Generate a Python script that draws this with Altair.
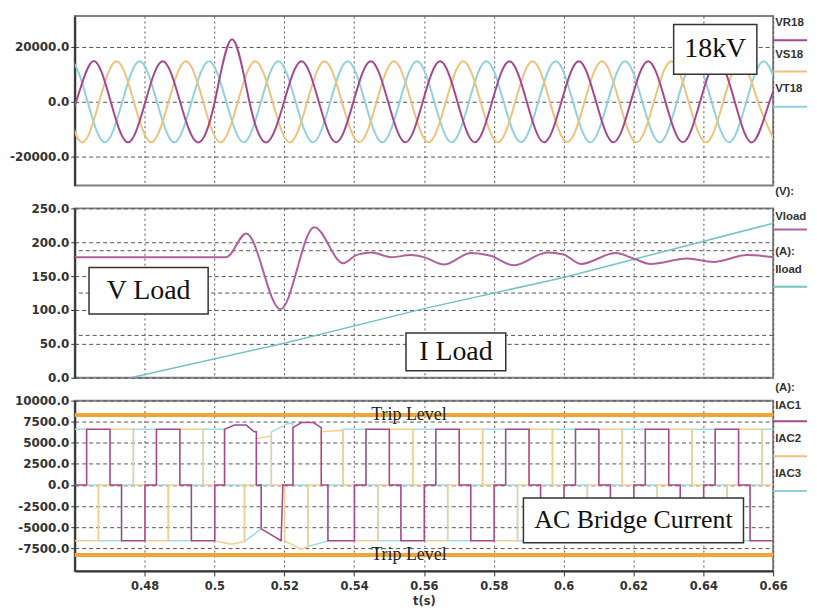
import altair as alt
import pandas as pd

# ---------------- values ----------------
T_TICKS = [0.48, 0.5, 0.52, 0.54, 0.56, 0.58, 0.6, 0.62, 0.64, 0.66]

# Panel 1: 18 kV phase voltages (peaks / zero crossings)
VR18_t = [0.45541, 0.46038, 0.46534, 0.47030, 0.47527, 0.48023, 0.48520, 0.49016, 0.49513, 0.50009,
          0.50505, 0.51002, 0.51498, 0.51995, 0.52491, 0.52988, 0.53484, 0.53980, 0.54477, 0.54973,
          0.55470, 0.55966, 0.56463, 0.56959, 0.57455, 0.57952, 0.58448, 0.58945, 0.59441, 0.59938,
          0.60434, 0.60930, 0.61427, 0.61923, 0.62420, 0.62916, 0.63413, 0.63909, 0.64405, 0.64902,
          0.65398, 0.65895, 0.66391]
VR18_v = [-14700, 0, 14700, 0, -14700, 0, 14700, 0, -14700, 0,
          22600, 0, -14700, 0, 14700, 0, -14700, 0, 14700, 0,
          -14700, 0, 14700, 0, -14700, 0, 14700, 0, -14700, 0,
          14700, 0, -14700, 0, 14700, 0, -14700, 0, 14700, 0,
          -14700, 0, 14700]
VS18_t = [0.45211, 0.45707, 0.46204, 0.46700, 0.47197, 0.47693, 0.48190, 0.48686, 0.49182, 0.49679,
          0.50175, 0.50672, 0.51168, 0.51665, 0.52161, 0.52658, 0.53154, 0.53650, 0.54147, 0.54643,
          0.55140, 0.55636, 0.56133, 0.56629, 0.57125, 0.57622, 0.58118, 0.58615, 0.59111, 0.59608,
          0.60104, 0.60600, 0.61097, 0.61593, 0.62090, 0.62586, 0.63083, 0.63579, 0.64075, 0.64572,
          0.65068, 0.65565, 0.66061]
VS18_v = [14700, 0, -14700, 0, 14700, 0, -14700, 0, 14700, 0,
          -14700, 0, 14700, 0, -14700, 0, 14700, 0, -14700, 0,
          14700, 0, -14700, 0, 14700, 0, -14700, 0, 14700, 0,
          -14700, 0, 14700, 0, -14700, 0, 14700, 0, -14700, 0,
          14700, 0, -14700]
VT18_t = [0.44879, 0.45375, 0.45872, 0.46368, 0.46865, 0.47361, 0.47858, 0.48354, 0.48850, 0.49347,
          0.49843, 0.50340, 0.50836, 0.51333, 0.51829, 0.52325, 0.52822, 0.53318, 0.53815, 0.54311,
          0.54808, 0.55304, 0.55800, 0.56297, 0.56793, 0.57290, 0.57786, 0.58283, 0.58779, 0.59275,
          0.59772, 0.60268, 0.60765, 0.61261, 0.61758, 0.62254, 0.62751, 0.63247, 0.63743, 0.64240,
          0.64736, 0.65233, 0.65729, 0.66226]
VT18_v = [-14700, 0, 14700, 0, -14700, 0, 14700, 0, -14700, 0,
          14700, 0, -14700, 0, 14700, 0, -14700, 0, 14700, 0,
          -14700, 0, 14700, 0, -14700, 0, 14700, 0, -14700, 0,
          14700, 0, -14700, 0, 14700, 0, -14700, 0, 14700, 0,
          -14700, 0, 14700, 0]

# Panel 2: load voltage and load current
VLOAD_t = [0.46, 0.5034, 0.5091, 0.5189, 0.5286, 0.5369, 0.5406, 0.5449, 0.5506, 0.5563,
           0.5600, 0.5657, 0.5734, 0.5791, 0.5857, 0.5954, 0.6000, 0.6049, 0.6149, 0.6200,
           0.6249, 0.6354, 0.6429, 0.6526, 0.66]
VLOAD_v = [178, 178, 213, 101, 222, 169, 181, 185, 178, 181,
           178, 167, 184, 180, 166, 185, 182, 168, 184, 176,
           168, 176, 171, 181, 178]
ILOAD_t = [0.476, 0.52, 0.56, 0.60, 0.66]
ILOAD_v = [0, 51, 102, 148, 228]
LOAD_EXTRA_GRID = [62.5, 125, 187.5]

# Panel 3: AC bridge currents (polyline vertices, time in s, current in A)
IAC1 = [
    (0.4600, 0), (0.4634, 0), (0.4634, 6600), (0.4701, 6600), (0.4701, 0),
    (0.4734, 0), (0.4734, -6600), (0.4801, -6600), (0.4801, 0),
    (0.4834, 0), (0.4834, 6600), (0.4901, 6600), (0.4901, 0),
    (0.4934, 0), (0.4934, -6600), (0.5001, -6600), (0.5001, 0),
    (0.5029, 0), (0.5029, 6600), (0.5057, 7100), (0.5091, 7100), (0.5114, 6300), (0.5120, 6300), (0.5120, 0),
    (0.5134, 0), (0.5134, -5200), (0.5191, -6600), (0.5196, 0),
    (0.5225, 0), (0.5225, 6800), (0.5249, 7400), (0.5283, 7400), (0.5306, 6800), (0.5306, 0),
    (0.5325, 0), (0.5325, -6600), (0.5401, -6600), (0.5401, 0),
    (0.5434, 0), (0.5434, 6600), (0.5501, 6600), (0.5501, 0),
    (0.5534, 0), (0.5534, -6600), (0.5601, -6600), (0.5601, 0),
    (0.5634, 0), (0.5634, 6600), (0.5701, 6600), (0.5701, 0),
    (0.5734, 0), (0.5734, -6600), (0.5801, -6600), (0.5801, 0),
    (0.5834, 0), (0.5834, 6600), (0.5901, 6600), (0.5901, 0),
    (0.5934, 0), (0.5934, -6600), (0.6001, -6600), (0.6001, 0),
    (0.6034, 0), (0.6034, 6600), (0.6101, 6600), (0.6101, 0),
    (0.6134, 0), (0.6134, -6600), (0.6201, -6600), (0.6201, 0),
    (0.6234, 0), (0.6234, 6600), (0.6301, 6600), (0.6301, 0),
    (0.6334, 0), (0.6334, -6600), (0.6401, -6600), (0.6401, 0),
    (0.6434, 0), (0.6434, 6600), (0.6501, 6600), (0.6501, 0),
    (0.6534, 0), (0.6534, -6600), (0.6600, -6600),
]
IAC2 = [
    (0.4600, -6600), (0.4668, -6600), (0.4668, 0),
    (0.4701, 0), (0.4701, 6600), (0.4768, 6600), (0.4768, 0),
    (0.4801, 0), (0.4801, -6600), (0.4868, -6600), (0.4868, 0),
    (0.4901, 0), (0.4901, 6600), (0.4968, 6600), (0.4968, 0),
    (0.5001, 0), (0.5001, -6600), (0.5043, -7000), (0.5054, -7000), (0.5086, -6700), (0.5086, 0),
    (0.5120, 0), (0.5120, 5500), (0.5163, 5800), (0.5163, 0),
    (0.5201, 0), (0.5201, -6640), (0.5249, -7600), (0.5268, -7300), (0.5268, 0),
    (0.5306, 0), (0.5306, 6300), (0.5368, 6500), (0.5368, 0),
    (0.5401, 0), (0.5401, -6600), (0.5468, -6600), (0.5468, 0),
    (0.5501, 0), (0.5501, 6600), (0.5568, 6600), (0.5568, 0),
    (0.5601, 0), (0.5601, -6600), (0.5668, -6600), (0.5668, 0),
    (0.5701, 0), (0.5701, 6600), (0.5768, 6600), (0.5768, 0),
    (0.5801, 0), (0.5801, -6600), (0.5868, -6600), (0.5868, 0),
    (0.5901, 0), (0.5901, 6600), (0.5968, 6600), (0.5968, 0),
    (0.6001, 0), (0.6001, -6600), (0.6068, -6600), (0.6068, 0),
    (0.6101, 0), (0.6101, 6600), (0.6168, 6600), (0.6168, 0),
    (0.6201, 0), (0.6201, -6600), (0.6268, -6600), (0.6268, 0),
    (0.6301, 0), (0.6301, 6600), (0.6368, 6600), (0.6368, 0),
    (0.6401, 0), (0.6401, -6600), (0.6468, -6600), (0.6468, 0),
    (0.6501, 0), (0.6501, 6600), (0.6568, 6600), (0.6568, 0),
    (0.6600, 0),
]
IAC3 = [
    (0.4600, 6600), (0.4634, 6600), (0.4634, 0),
    (0.4668, 0), (0.4668, -6600), (0.4734, -6600), (0.4734, 0),
    (0.4768, 0), (0.4768, 6600), (0.4834, 6600), (0.4834, 0),
    (0.4868, 0), (0.4868, -6600), (0.4934, -6600), (0.4934, 0),
    (0.4968, 0), (0.4968, 6600), (0.5029, 6600), (0.5029, 0),
    (0.5086, 0), (0.5086, -6700), (0.5134, -5200), (0.5134, 0),
    (0.5163, 0), (0.5163, 6300), (0.5211, 7300), (0.5225, 7300), (0.5225, 0),
    (0.5268, 0), (0.5268, -7300), (0.5325, -6640), (0.5325, 0),
    (0.5368, 0), (0.5368, 6600), (0.5434, 6600), (0.5434, 0),
    (0.5468, 0), (0.5468, -6600), (0.5534, -6600), (0.5534, 0),
    (0.5568, 0), (0.5568, 6600), (0.5634, 6600), (0.5634, 0),
    (0.5668, 0), (0.5668, -6600), (0.5734, -6600), (0.5734, 0),
    (0.5768, 0), (0.5768, 6600), (0.5834, 6600), (0.5834, 0),
    (0.5868, 0), (0.5868, -6600), (0.5934, -6600), (0.5934, 0),
    (0.5968, 0), (0.5968, 6600), (0.6034, 6600), (0.6034, 0),
    (0.6068, 0), (0.6068, -6600), (0.6134, -6600), (0.6134, 0),
    (0.6168, 0), (0.6168, 6600), (0.6234, 6600), (0.6234, 0),
    (0.6268, 0), (0.6268, -6600), (0.6334, -6600), (0.6334, 0),
    (0.6368, 0), (0.6368, 6600), (0.6434, 6600), (0.6434, 0),
    (0.6468, 0), (0.6468, -6600), (0.6534, -6600), (0.6534, 0),
    (0.6568, 0), (0.6568, 6600), (0.6600, 6600),
]
TRIP_LEVELS = [8300, -8300]

# ---------------- styling ----------------
PURPLE = "#a8468c"
YELLOW = "#efc27a"
CYAN = "#90d2dc"
TEAL = "#72c4c4"
ORANGE = "#f0a535"
GRID = "#555555"
INK = "#333333"
W, H = 701, 170
XSCALE = alt.Scale(domain=[0.46, 0.66], nice=False, zero=False)
LABEL_EXPR = "(datum.value < 0 ? '-' : '') + format(abs(datum.value), '.1f')"
DUMMY = pd.DataFrame({"k": [0]})


def df_tv(ts, vs):
    return pd.DataFrame({"t": ts, "v": vs, "i": list(range(len(ts)))})


def df_pairs(pairs):
    return df_tv([p[0] for p in pairs], [p[1] for p in pairs])


def x_hidden():
    return alt.X("t:Q", scale=XSCALE, axis=alt.Axis(
        values=T_TICKS, labels=False, ticks=False, domain=False, title=None,
        grid=True, gridDash=[2, 3], gridColor=GRID, minExtent=0, maxExtent=0))


def x_bottom():
    return alt.X("t:Q", scale=XSCALE, axis=alt.Axis(
        values=T_TICKS, format=".2~f", labelOverlap=False, labelFlush=False,
        title="t(s)", titleFont="DejaVu Sans", titleFontSize=11.5, titleFontWeight="bold",
        titleColor=INK, titlePadding=3, tickSize=5, tickColor=INK, labelPadding=5,
        labelFontSize=11.5, domainColor=INK, domainWidth=2, grid=True, gridDash=[2, 3],
        gridColor=GRID))


def y_enc(domain, values):
    return alt.Y("v:Q", scale=alt.Scale(domain=domain, nice=False, zero=False), axis=alt.Axis(
        values=values, title=None, labelExpr=LABEL_EXPR, grid=True, gridDash=[4, 3],
        gridColor=GRID, tickSize=4, tickColor=INK, labelPadding=2,
        domainColor=INK, domainWidth=2))


def line(df, x, y, color, width, interp):
    return alt.Chart(df).mark_line(color=color, strokeWidth=width, interpolate=interp,
                                   clip=True).encode(x=x, y=y, order="i:Q")


def box(x, y, t1, t2, v1, v2, text, tc, vc, size):
    rect = alt.Chart(pd.DataFrame({"t": [t1], "t2": [t2], "v": [v1], "v2": [v2]})).mark_rect(
        fill="white", stroke=INK, strokeWidth=1.5).encode(x=x, x2="t2:Q", y=y, y2="v2:Q")
    txt = alt.Chart(pd.DataFrame({"t": [tc], "v": [vc], "label": [text]})).mark_text(
        font="Liberation Serif", fontSize=size, color="#111111").encode(x=x, y=y, text="label:N")
    return [rect, txt]


def legend_text(text, ypix):
    return alt.Chart(DUMMY).mark_text(
        text=text, align="left", baseline="middle", font="Liberation Sans",
        fontWeight="bold", fontSize=11.5, color=INK).encode(x=alt.value(703), y=alt.value(ypix))


def legend_rule(color, ypix):
    return alt.Chart(DUMMY).mark_rule(color=color, strokeWidth=2).encode(
        x=alt.value(701), x2=alt.value(735), y=alt.value(ypix))


# ---------------- panel 1 ----------------
X1 = x_hidden()
Y1 = y_enc([-30300, 31000], [-20000, 0, 20000])
p1 = alt.layer(
    line(df_tv(VT18_t, VT18_v), X1, Y1, CYAN, 2, "natural"),
    line(df_tv(VS18_t, VS18_v), X1, Y1, YELLOW, 2, "natural"),
    line(df_tv(VR18_t, VR18_v), X1, Y1, PURPLE, 2, "natural"),
    *box(X1, Y1, 0.63151, 0.65534, 28000, 9980, "18kV", 0.64343, 19000, 28),
    legend_text("VR18", 6.7), legend_rule(PURPLE, 24.3),
    legend_text("VS18", 39), legend_rule(YELLOW, 55.7),
    legend_text("VT18", 73.3), legend_rule(CYAN, 91),
).properties(width=W, height=H)

# ---------------- panel 2 ----------------
X2 = x_hidden()
Y2 = y_enc([0, 250], [0, 50, 100, 150, 200, 250])
p2 = alt.layer(
    alt.Chart(pd.DataFrame({"v": LOAD_EXTRA_GRID})).mark_rule(
        color=GRID, strokeDash=[4, 3], strokeWidth=1).encode(y=Y2),
    line(df_tv(ILOAD_t, ILOAD_v), X2, Y2, TEAL, 1.5, "linear"),
    line(df_tv(VLOAD_t, VLOAD_v), X2, Y2, "#b0609f", 2, "monotone"),
    *box(X2, Y2, 0.46409, 0.49820, 162.8, 94.1, "V Load", 0.48115, 128.5, 28),
    *box(X2, Y2, 0.55486, 0.58343, 66.2, 10.3, "I Load", 0.56915, 38.2, 28),
    legend_text("(V):", -16),
    legend_text("Vload", 8.7), legend_rule("#b0609f", 21.3),
    legend_text("(A):", 43.7),
    legend_text("Iload", 62), legend_rule(TEAL, 78.7),
).properties(width=W, height=H)

# ---------------- panel 3 ----------------
X3 = x_bottom()
Y3 = y_enc([-10200, 10000], [-7500, -5000, -2500, 0, 2500, 5000, 7500, 10000])
p3 = alt.layer(
    alt.Chart(pd.DataFrame({"v": TRIP_LEVELS})).mark_rule(
        color=ORANGE, strokeWidth=4).encode(y=Y3),
    line(df_pairs(IAC3), X3, Y3, "#a3dbe3", 1.5, "linear"),
    line(df_pairs(IAC2), X3, Y3, "#f3cf8e", 1.5, "linear"),
    line(df_pairs(IAC1), X3, Y3, PURPLE, 1.5, "linear"),
    alt.Chart(pd.DataFrame({"t": [0.5557, 0.5557], "v": TRIP_LEVELS,
                            "label": ["Trip Level", "Trip Level"]})).mark_text(
        font="Liberation Serif", fontSize=18, color="#222222").encode(x=X3, y=Y3, text="label:N"),
    *box(X3, Y3, 0.58849, 0.65151, -1530, -6840, "AC Bridge Current", 0.6200, -4185, 26),
    legend_text("(A):", -13),
    legend_text("IAC1", 5.7), legend_rule(PURPLE, 20.7),
    legend_text("IAC2", 39), legend_rule(YELLOW, 55.7),
    legend_text("IAC3", 74), legend_rule(CYAN, 90.7),
).properties(width=W, height=171)

chart = alt.vconcat(p1, p2, p3, spacing=23, bounds="flush").properties(
    padding={"left": 0, "top": 6, "right": 0, "bottom": 0},
    background="white",
).configure_axis(
    labelFont="DejaVu Sans", labelFontSize=12, labelFontWeight="bold", labelColor=INK,
).configure_view(stroke="#808080", strokeWidth=2)

chart.save("out.html", embed_options={"renderer": "svg", "actions": False})
